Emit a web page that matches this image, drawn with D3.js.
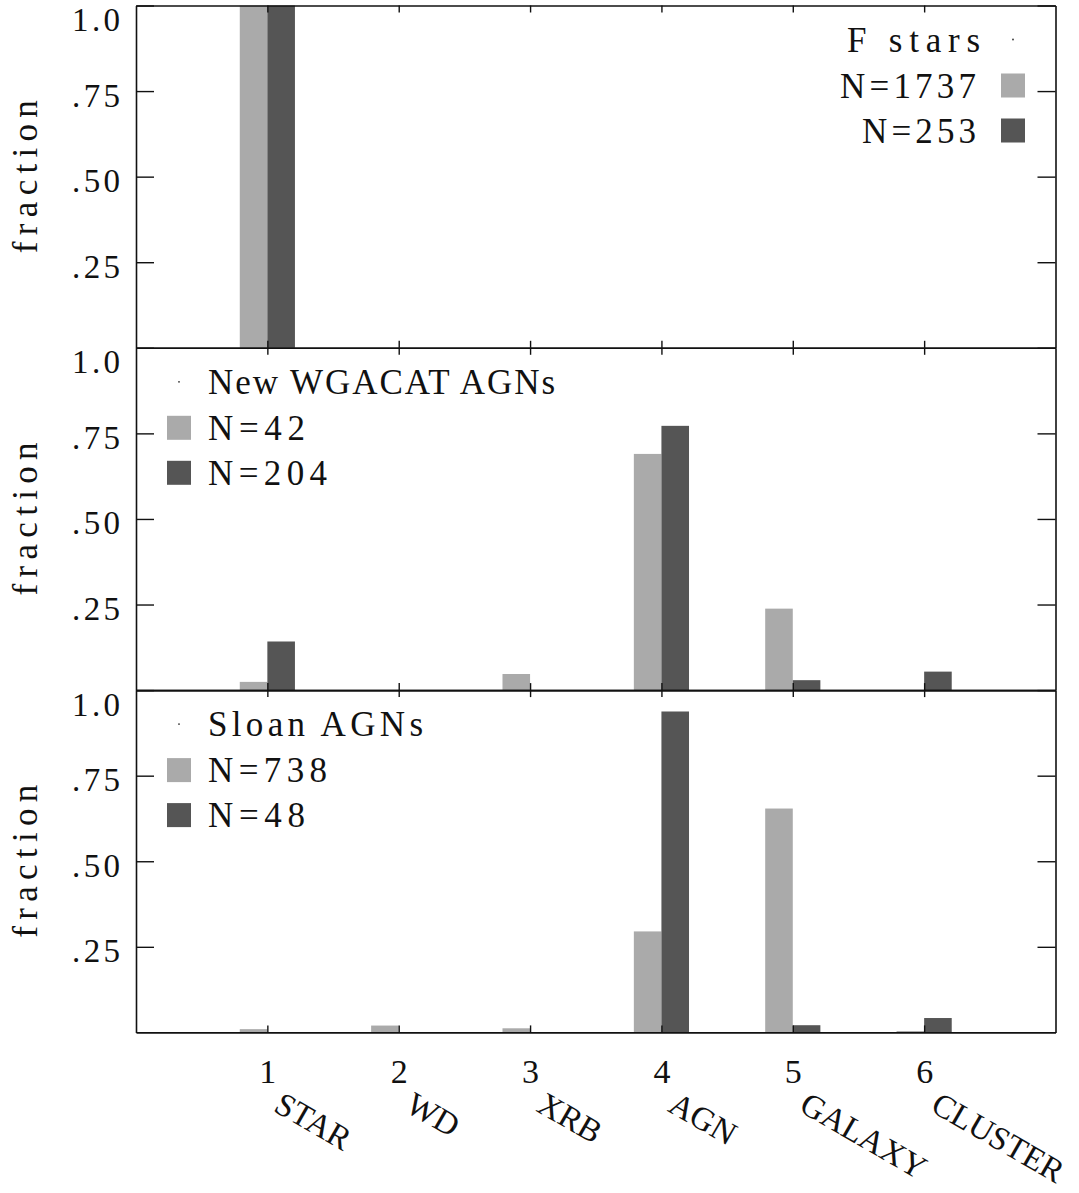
<!DOCTYPE html>
<html>
<head>
<meta charset="utf-8">
<script src="https://cdn.jsdelivr.net/npm/d3@7"></script>
<style>
  body { margin: 0; background: #fff; }
  text { font-family: "Liberation Serif", "DejaVu Serif", serif; fill: #111; }
</style>
</head>
<body>
<svg id="chart" width="1079" height="1193"></svg>
<script>
// categories and tick labels
var categories = ["STAR", "WD", "XRB", "AGN", "GALAXY", "CLUSTER"],
    catTicks = ["1", "2", "3", "4", "5", "6"],
    yTicks = [0.25, 0.5, 0.75, 1.0],
    yTickLabels = [".25", ".50", ".75", "1.0"];

// fractions per class, light = first sample, dark = second
var fStarsLight = [1.0, 0, 0, 0, 0, 0],
    fStarsDark  = [1.0, 0, 0, 0, 0, 0],
    wgacatLight = [0.024, 0, 0.047, 0.690, 0.238, 0],
    wgacatDark  = [0.142, 0, 0, 0.772, 0.029, 0.054],
    sloanLight  = [0.0095, 0.020, 0.012, 0.295, 0.654, 0.004],
    sloanDark   = [0, 0, 0, 0.9375, 0.021, 0.042];

var panelTitles = ["F  stars", "New WGACAT AGNs", "Sloan AGNs"],
    panelLightN = ["N=1737", "N=42", "N=738"],
    panelDarkN  = ["N=253", "N=204", "N=48"];

var colorLight = "#aaaaaa",
    colorDark = "#555555",
    colorAxis = "#111";

var svg = d3.select("#chart"),
    left = 136, right = 1055.5,
    top0 = 5.5, panelH = 342.3,
    barW = 0.21;

var x = d3.scaleLinear().domain([0, 7]).range([left, right]);

var panels = [
  { light: fStarsLight, dark: fStarsDark, legend: "right" },
  { light: wgacatLight, dark: wgacatDark, legend: "left" },
  { light: sloanLight,  dark: sloanDark,  legend: "left" }
];

// rough text widths
var textWidths = {
  "F  stars": 133, "N=1737": 136, "N=253": 114,
  "New WGACAT AGNs": 347, "N=42": 97, "N=204": 119,
  "Sloan AGNs": 215, "N=738": 119, "N=48": 97
};

function styleAxis(g) {
  g.select(".domain").attr("stroke", colorAxis).attr("stroke-width", 1.6);
  g.selectAll(".tick line").attr("stroke", colorAxis).attr("stroke-width", 1.4);
}

panels.forEach(function(p, i) {
  var pt = top0 + i * panelH,
      pb = pt + panelH;
  var y = d3.scaleLinear().domain([0, 1]).range([pb, pt]);
  var g = svg.append("g");

  // bars
  categories.forEach(function(c, k) {
    var cx = k + 1;
    if (p.light[k] > 0)
      g.append("rect")
        .attr("x", x(cx - barW)).attr("width", x(cx) - x(cx - barW))
        .attr("y", y(p.light[k])).attr("height", y(0) - y(p.light[k]))
        .attr("fill", colorLight);
    if (p.dark[k] > 0)
      g.append("rect")
        .attr("x", x(cx)).attr("width", x(cx + barW) - x(cx))
        .attr("y", y(p.dark[k])).attr("height", y(0) - y(p.dark[k]))
        .attr("fill", colorDark);
  });

  // axes, ticks inward
  var ax = g.append("g").attr("transform", "translate(" + left + ",0)")
    .call(d3.axisLeft(y).tickValues(yTicks).tickSize(-18).tickSizeOuter(0).tickPadding(16)
      .tickFormat(function(d, j) { return yTickLabels[j]; }));
  styleAxis(ax);
  ax.selectAll(".tick text")
    .attr("font-size", 33)
    .attr("fill", "#111")
    .attr("dy", function(d) { return d === 1 ? 25 : 15; })
    .attr("textLength", 48)
    .attr("lengthAdjust", "spacing");

  styleAxis(g.append("g").attr("transform", "translate(" + right + ",0)")
    .call(d3.axisRight(y).tickValues(yTicks).tickSize(-18).tickSizeOuter(0).tickFormat("")));

  styleAxis(g.append("g").attr("transform", "translate(0," + pt + ")")
    .call(d3.axisTop(x).tickValues([1, 2, 3, 4, 5, 6]).tickSize(-7).tickSizeOuter(0).tickFormat("")));

  var bx = g.append("g").attr("transform", "translate(0," + pb + ")")
    .call(d3.axisBottom(x).tickValues([1, 2, 3, 4, 5, 6]).tickSize(-7).tickSizeOuter(0)
      .tickFormat(function(d) { return i === 2 ? catTicks[d - 1] : ""; }));
  styleAxis(bx);
  bx.selectAll(".tick text")
    .attr("font-size", 34).attr("fill", "#111")
    .attr("y", 51).attr("dy", 0);

  // y label
  g.append("text")
    .attr("transform", "translate(37," + (pt + panelH / 2) + ") rotate(-90)")
    .attr("text-anchor", "middle")
    .attr("font-size", 35)
    .attr("textLength", 153)
    .attr("lengthAdjust", "spacing")
    .text("fraction");

  // legend
  var rows = [
    { t: panelTitles[i], dy: 46, sw: null },
    { t: panelLightN[i], dy: 92, sw: colorLight },
    { t: panelDarkN[i],  dy: 137, sw: colorDark }
  ];
  var isRight = p.legend === "right",
      swX = isRight ? 1001 : 167,
      txX = isRight ? 976 : 208;
  rows.forEach(function(r, j) {
    g.append("text")
      .attr("x", isRight && j === 0 ? 980 : txX)
      .attr("y", pt + r.dy)
      .attr("text-anchor", isRight ? "end" : "start")
      .attr("font-size", 35)
      .attr("textLength", textWidths[r.t])
      .attr("lengthAdjust", "spacing")
      .text(r.t);
    if (r.sw) {
      g.append("rect")
        .attr("x", swX).attr("y", pt + r.dy - 24)
        .attr("width", 24).attr("height", 24)
        .attr("fill", r.sw);
    } else {
      g.append("circle")
        .attr("cx", swX + 12).attr("cy", pt + r.dy - 12)
        .attr("r", 0.9).attr("fill", "#333");
    }
  });
});

// category names under the bottom panel
var bottom = top0 + 3 * panelH;
svg.append("g").selectAll("text")
  .data(categories)
  .join("text")
    .attr("transform", function(d, k) {
      return "translate(" + (x(k + 1) + 5) + "," + (bottom + 78) + ") rotate(30)";
    })
    .attr("font-size", 33)
    .text(function(d) { return d; });
</script>
</body>
</html>
